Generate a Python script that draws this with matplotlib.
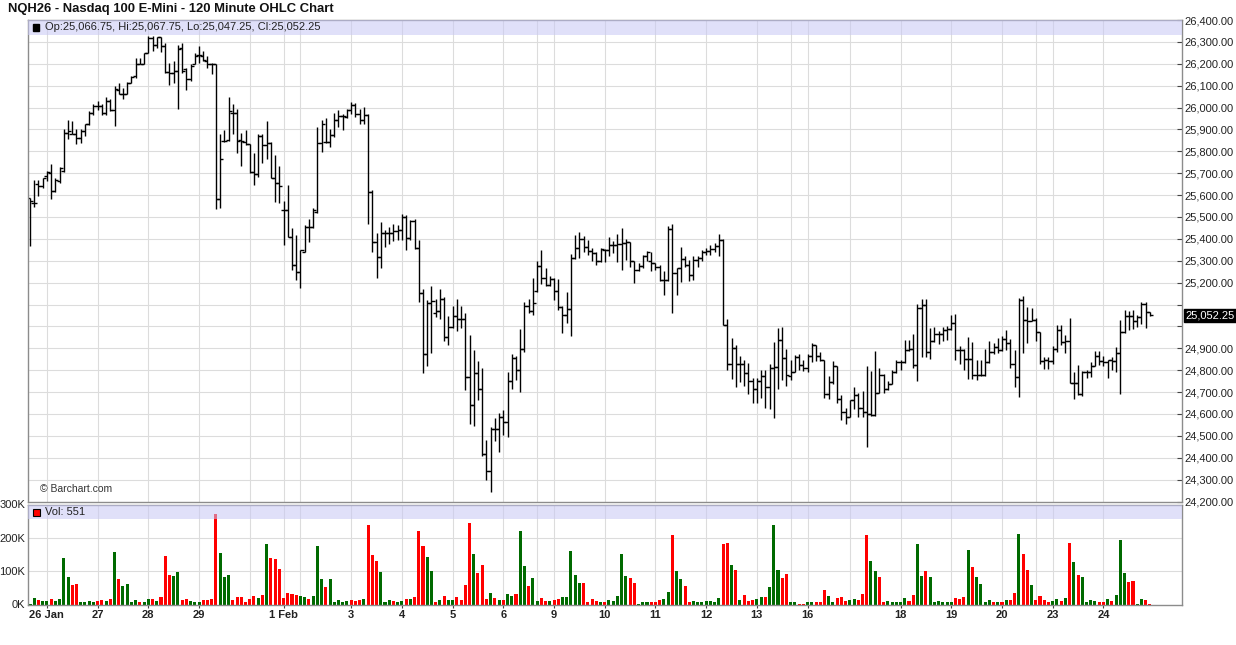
import numpy as np
import matplotlib
matplotlib.use('Agg')
import matplotlib.pyplot as plt
from matplotlib.collections import LineCollection
from matplotlib.patches import Rectangle

plt.rcParams['font.family'] = ['Liberation Sans', 'DejaVu Sans']

W, H = 1236, 645

title = 'NQH26 - Nasdaq 100 E-Mini - 120 Minute OHLC Chart'

# 120 minute bars, oldest first
opens = [
    25588, 25565, 25649, 25641, 25687, 25702, 25618, 25664, 25709, 25884,
    25880, 25877, 25862, 25892, 25923, 25976, 26006, 26006, 25976, 26029,
    25991, 26082, 26064, 26064, 26113, 26143, 26200, 26201, 26250, 26318,
    26288, 26323, 26280, 26161, 26158, 26166, 26273, 26174, 26131, 26197,
    26238, 26235, 26212, 26197, 26197, 25580, 25848, 25851, 25973, 25973,
    25851, 25843, 25833, 25706, 25696, 25869, 25828, 25840, 25676, 25656,
    25531, 25531, 25409, 25280, 25250, 25341, 25455, 25452, 25524, 25839,
    25843, 25843, 25874, 25945, 25960, 25957, 25988, 26011, 25970, 25945,
    25965, 25615, 25387, 25318, 25425, 25425, 25428, 25437, 25440, 25501,
    25404, 25480, 25358, 25153, 24876, 25107, 25062, 25069, 25126, 24952,
    24998, 25046, 25036, 25034, 24769, 24639, 24785, 24715, 24419, 24339,
    24532, 24532, 24587, 24562, 24750, 24856, 24800, 24897, 25095, 25069,
    25161, 25275, 25221, 25191, 25217, 25164, 25089, 25054, 25080, 25313,
    25358, 25400, 25361, 25343, 25336, 25298, 25351, 25348, 25374, 25374,
    25378, 25381, 25384, 25298, 25260, 25275, 25320, 25298, 25290, 25272,
    25211, 25214, 25445, 25244, 25267, 25308, 25282, 25237, 25305, 25313,
    25339, 25343, 25354, 25369, 25393, 25008, 24829, 24902, 24826, 24826,
    24788, 24750, 24712, 24750, 24772, 24724, 24811, 24815, 24940, 24856,
    24772, 24792, 24858, 24823, 24812, 24864, 24914, 24864, 24845, 24693,
    24746, 24818, 24670, 24609, 24587, 24663, 24686, 24625, 24609, 24602,
    24594, 24696, 24780, 24713, 24739, 24792, 24838, 24838, 24891, 24899,
    24823, 25086, 25097, 24883, 24934, 24964, 24964, 24985, 24990, 25016,
    24894, 24891, 24853, 24853, 24777, 24777, 24777, 24838, 24883, 24906,
    24891, 24944, 24926, 24830, 24769, 25119, 25028, 25025, 25031, 24975,
    24842, 24845, 24842, 24899, 24985, 24929, 24934, 24743, 24743, 24693,
    24792, 24792, 24818, 24864, 24842, 24838, 24845, 24842, 24879, 24975,
    25046, 25046, 25025, 25043, 25101, 25066.75,
]
highs = [
    25588, 25671, 25668, 25679, 25709, 25744, 25676, 25729, 25900, 25942,
    25938, 25900, 25903, 25927, 25983, 26014, 26032, 26014, 26046, 26037,
    26098, 26110, 26090, 26116, 26146, 26227, 26227, 26250, 26329, 26326,
    26323, 26323, 26295, 26204, 26212, 26288, 26295, 26181, 26197, 26250,
    26283, 26257, 26235, 26204, 26201, 25881, 25897, 26049, 26018, 25992,
    25884, 25897, 25833, 25793, 25881, 25881, 25938, 25843, 25782, 25732,
    25572, 25645, 25448, 25417, 25349, 25463, 25489, 25539, 25909, 25942,
    25950, 25904, 25976, 25988, 25970, 25995, 26026, 26023, 25995, 26003,
    25970, 25623, 25425, 25478, 25440, 25455, 25470, 25463, 25513, 25511,
    25488, 25491, 25393, 25171, 25120, 25186, 25126, 25171, 25135, 25049,
    25095, 25126, 25092, 25059, 24963, 24890, 24844, 24811, 24479, 24540,
    24582, 24605, 24617, 24791, 24876, 24864, 24986, 25110, 25126, 25221,
    25298, 25351, 25267, 25232, 25221, 25218, 25095, 25158, 25333, 25419,
    25432, 25415, 25397, 25358, 25339, 25358, 25354, 25409, 25389, 25424,
    25450, 25400, 25386, 25298, 25290, 25328, 25343, 25339, 25292, 25282,
    25252, 25457, 25470, 25267, 25363, 25320, 25305, 25320, 25320, 25348,
    25358, 25374, 25381, 25424, 25400, 25036, 24948, 24917, 24864, 24846,
    24833, 24765, 24765, 24803, 24803, 24826, 24930, 24994, 24998, 24895,
    24845, 24868, 24873, 24845, 24873, 24925, 24914, 24883, 24845, 24772,
    24842, 24818, 24686, 24628, 24663, 24724, 24696, 24704, 24818, 24797,
    24888, 24812, 24784, 24751, 24800, 24845, 24845, 24940, 24940, 24964,
    25101, 25127, 25127, 24995, 24998, 24979, 24998, 25001, 25051, 25055,
    24909, 24899, 24952, 24929, 24845, 24845, 24899, 24934, 24925, 24949,
    24955, 24985, 24944, 24891, 25130, 25138, 25089, 25086, 25040, 24975,
    24861, 24858, 24909, 25005, 25005, 24960, 25040, 24792, 24823, 24797,
    24800, 24838, 24888, 24886, 24864, 24845, 24858, 24906, 25031, 25077,
    25071, 25077, 25051, 25112, 25112, 25067.75,
]
lows = [
    25367, 25547, 25595, 25633, 25664, 25580, 25615, 25656, 25705, 25854,
    25877, 25834, 25839, 25872, 25918, 25968, 25991, 25965, 25968, 25983,
    25915, 26060, 26040, 26060, 26110, 26136, 26197, 26201, 26250, 26257,
    26273, 26253, 26158, 26105, 26113, 25994, 26158, 26082, 26120, 26197,
    26204, 26212, 26181, 26151, 25537, 25542, 25843, 25845, 25881, 25793,
    25732, 25828, 25699, 25645, 25683, 25747, 25767, 25676, 25569, 25562,
    25371, 25409, 25257, 25212, 25177, 25338, 25387, 25451, 25516, 25798,
    25836, 25820, 25866, 25912, 25897, 25950, 25970, 25957, 25927, 25927,
    25470, 25341, 25219, 25265, 25361, 25376, 25391, 25397, 25394, 25351,
    25397, 25354, 25110, 24788, 24818, 24879, 25043, 25034, 24932, 24914,
    24993, 24978, 24993, 24709, 24552, 24544, 24663, 24407, 24298, 24243,
    24475, 24425, 24506, 24494, 24712, 24757, 24699, 24882, 25062, 25051,
    25158, 25196, 25186, 25183, 25120, 25074, 24970, 25016, 24955, 25308,
    25313, 25339, 25328, 25298, 25279, 25293, 25293, 25320, 25336, 25293,
    25256, 25302, 25272, 25199, 25252, 25267, 25298, 25252, 25256, 25206,
    25145, 25206, 25062, 25145, 25202, 25272, 25206, 25214, 25272, 25298,
    25328, 25328, 25339, 25320, 25008, 24803, 24760, 24724, 24745, 24727,
    24689, 24651, 24648, 24674, 24628, 24624, 24583, 24712, 24757, 24727,
    24754, 24790, 24803, 24795, 24792, 24838, 24841, 24842, 24675, 24670,
    24739, 24651, 24571, 24553, 24584, 24622, 24584, 24584, 24447, 24591,
    24590, 24696, 24698, 24708, 24736, 24785, 24800, 24835, 24888, 24812,
    24751, 24861, 24861, 24850, 24930, 24918, 24934, 24937, 24982, 24845,
    24827, 24800, 24759, 24759, 24754, 24772, 24775, 24835, 24876, 24879,
    24888, 24891, 24812, 24721, 24678, 24879, 24925, 25023, 24934, 24827,
    24807, 24807, 24830, 24883, 24914, 24880, 24742, 24667, 24686, 24681,
    24766, 24769, 24818, 24823, 24818, 24762, 24800, 24792, 24693, 24970,
    24985, 24990, 24998, 25013, 24995, 25047.25,
]
closes = [
    25572, 25562, 25641, 25676, 25705, 25618, 25671, 25725, 25884, 25892,
    25877, 25862, 25892, 25923, 25976, 26009, 26006, 25976, 26031, 25991,
    26085, 26064, 26064, 26110, 26140, 26200, 26201, 26247, 26318, 26288,
    26323, 26280, 26161, 26158, 26166, 26268, 26166, 26131, 26192, 26235,
    26242, 26216, 26201, 26197, 25580, 25763, 25848, 25985, 25973, 25848,
    25848, 25833, 25706, 25696, 25869, 25828, 25840, 25676, 25656, 25641,
    25531, 25409, 25280, 25250, 25349, 25455, 25452, 25534, 25839, 25924,
    25843, 25874, 25945, 25960, 25960, 25988, 26011, 25970, 25945, 25965,
    25615, 25387, 25318, 25425, 25425, 25428, 25437, 25440, 25501, 25404,
    25480, 25358, 25153, 24876, 25107, 25115, 25069, 25126, 24952, 24998,
    25046, 25036, 25034, 24769, 24639, 24785, 24715, 24419, 24339, 24532,
    24532, 24587, 24562, 24750, 24856, 24800, 24897, 25095, 25069, 25107,
    25275, 25221, 25191, 25217, 25164, 25089, 25054, 25080, 25313, 25358,
    25400, 25361, 25343, 25336, 25298, 25354, 25348, 25374, 25374, 25378,
    25381, 25384, 25298, 25260, 25275, 25320, 25339, 25290, 25272, 25211,
    25214, 25445, 25244, 25267, 25308, 25282, 25237, 25305, 25313, 25339,
    25343, 25354, 25369, 25393, 25008, 24829, 24902, 24826, 24826, 24788,
    24750, 24712, 24750, 24772, 24724, 24811, 24815, 24940, 24856, 24777,
    24792, 24858, 24823, 24812, 24864, 24914, 24864, 24845, 24693, 24746,
    24818, 24670, 24609, 24587, 24663, 24686, 24625, 24609, 24602, 24594,
    24696, 24780, 24713, 24739, 24792, 24838, 24838, 24891, 24899, 24823,
    25086, 25097, 24883, 24934, 24964, 24964, 24985, 24990, 25016, 24894,
    24891, 24853, 24853, 24777, 24777, 24777, 24838, 24883, 24906, 24891,
    24944, 24926, 24830, 24769, 25119, 25028, 25025, 25031, 24975, 24842,
    24845, 24842, 24899, 24985, 24929, 24934, 24743, 24743, 24693, 24792,
    24792, 24818, 24864, 24842, 24838, 24845, 24842, 24879, 24975, 25046,
    25046, 25025, 25043, 25101, 25066, 25052.25,
]
# volume in thousands of contracts
volume_k = [
    2, 21, 13, 10, 10, 16, 10, 16, 140, 82, 58, 63, 7, 7, 10, 7, 10, 13, 10, 16,
    158, 77, 55, 63, 7, 13, 7, 7, 18, 16, 10, 22, 146, 88, 86, 98, 13, 18, 10, 7,
    7, 13, 13, 16, 272, 155, 82, 88, 13, 22, 22, 7, 16, 25, 19, 28, 182, 140, 137, 107,
    19, 34, 31, 28, 25, 22, 16, 25, 176, 77, 52, 77, 7, 13, 7, 10, 13, 10, 13, 16,
    238, 148, 130, 98, 7, 13, 10, 7, 10, 18, 16, 22, 222, 176, 143, 101, 7, 13, 25, 13,
    13, 22, 13, 58, 246, 152, 95, 119, 16, 34, 19, 13, 13, 31, 25, 31, 222, 116, 55, 80,
    10, 19, 10, 10, 13, 16, 22, 22, 161, 89, 64, 64, 7, 16, 10, 7, 7, 13, 10, 25,
    152, 86, 80, 64, 3, 7, 7, 7, 7, 13, 16, 37, 210, 101, 77, 55, 7, 10, 7, 7,
    10, 10, 7, 19, 182, 185, 119, 104, 13, 28, 10, 13, 16, 22, 22, 52, 240, 104, 80, 92,
    7, 7, 3, 3, 7, 7, 7, 7, 43, 25, 7, 19, 22, 10, 13, 16, 13, 31, 210, 131,
    101, 83, 7, 10, 7, 7, 7, 19, 10, 28, 182, 86, 101, 83, 7, 10, 7, 7, 7, 19,
    16, 22, 164, 113, 83, 61, 7, 13, 7, 7, 7, 13, 13, 34, 213, 152, 104, 58, 13, 25,
    13, 7, 10, 16, 10, 19, 185, 128, 89, 83, 7, 13, 10, 7, 7, 16, 10, 28, 194, 95,
    67, 70, 3, 16, 13, 0.551,
]
# g = up bar, r = down bar
vol_colors = ("ggrggrggggrrggggrrgr" "grggggrggrgrrrggrrgg" "grrrrgggrrrrrrgrgrrr"
              "rrrrggrgggrgggggrrrg" "rrrgggrggrgrrrggrgrg" "grrrrgrrrgrgrggrggrg"
              "grrgrrgggggrrrrgrggg" "ggrrgggrrrggrggrrggg" "ggggrrgrgrrrggrgggrr"
              "ggrrggrrrggrrrggrrrg" "grrgggggrrggrggggggr" "rrgrggggrgrgrrgrrgrr"
              "rrggrgrgrggggrrgrggg" "rrggrr")

day_ticks = [4, 16, 28, 40, 60, 76, 88, 100, 112, 124, 136, 148, 160, 172,
             184, 206, 218, 230, 242, 254]
day_labels = ['26 Jan', '27', '28', '29', '1 Feb', '3', '4', '5', '6', '9',
              '10', '11', '12', '13', '16', '18', '19', '20', '23', '24']
grid_days = [4, 16, 28, 40, 52, 60, 64, 76, 88, 100, 112, 120, 124, 136, 148,
             160, 172, 180, 184, 194, 206, 218, 230, 238, 242, 254]
price_ticks = list(range(24200, 26401, 100))
hidden_price_labels = [25000, 25100]
vol_ticks = [0, 100, 200, 300]


def rect(l, t, r, b):
    return [l / W, 1 - b / H, (r - l) / W, (b - t) / H]


fig = plt.figure(figsize=(W / 100, H / 100), dpi=100)
ax = fig.add_axes(rect(28, 20, 1182, 501.5))
axv = fig.add_axes(rect(28, 504.5, 1182, 604.5))

step = 4.226  # px per bar
xl = (-2 / step, (1182 - 30) / step)
n = len(closes)
x = np.arange(n)

grid_c = '#dcdcdc'
frame_c = '#8c8c8c'

# ---- price panel
for d in grid_days:
    ax.axvline(d, color=grid_c, lw=0.8, zorder=0.5)
    axv.axvline(d, color=grid_c, lw=0.8, zorder=0.5)
for p in price_ticks[1:-1]:
    ax.axhline(p, color=grid_c, lw=0.8, zorder=0.5)

segs = []
tw = 0.72
for i in range(n):
    segs.append([(i, lows[i]), (i, highs[i])])
    segs.append([(i - tw, opens[i]), (i, opens[i])])
    segs.append([(i, closes[i]), (i + tw, closes[i])])
ax.add_collection(LineCollection(segs, colors='black', linewidths=1.0, zorder=2))

ax.set_xlim(*xl)
ax.set_ylim(24200, 26400)
ax.set_xticks([])
ax.yaxis.tick_right()
ax.set_yticks(price_ticks)
ax.set_yticklabels(['' if p in hidden_price_labels else f'{p:,.2f}' for p in price_ticks])
ax.tick_params(axis='y', direction='in', length=3.5, width=0.8, color='#444444',
               labelcolor='#222222', labelsize=8, pad=2)
for s in ax.spines.values():
    s.set_color(frame_c)
    s.set_linewidth(1.0)

bh = 14.5 / 481.5
ax.add_patch(Rectangle((0, 1 - bh), 1, bh, transform=ax.transAxes,
                       fc='#c8c8f5', alpha=0.55, ec='none', zorder=3))
ax.text(17 / 1154, 1 - 7.2 / 481.5,
        f'Op:{opens[-1]:,.2f}, Hi:{highs[-1]:,.2f}, Lo:{lows[-1]:,.2f}, Cl:{closes[-1]:,.2f}',
        transform=ax.transAxes, fontsize=8, color='#222222', va='center', ha='left', zorder=4)
fig.add_artist(Rectangle((33 / W, 1 - 30.5 / H), 6.5 / W, 6.5 / H,
                         transform=fig.transFigure, fc='black', ec='black'))
ax.text(12 / 1154, 13 / 481.5, '\u00a9 Barchart.com', transform=ax.transAxes,
        fontsize=7.5, color='#333333', va='center', ha='left', zorder=4)

# last price marker
fig.text(1185.5 / W, 1 - 315.5 / H, f'{closes[-1]:,.2f}', color='white', fontsize=8,
         ha='left', va='center',
         bbox=dict(boxstyle='square,pad=0.12', fc='black', ec='black'))

# ---- volume panel
for v in vol_ticks[1:-1]:
    axv.axhline(v, color=grid_c, lw=0.8, zorder=0.5)
cols = ['#006a00' if c == 'g' else '#ff0000' for c in vol_colors]
axv.bar(x, volume_k, width=0.72, color=cols, zorder=2)
axv.set_xlim(*xl)
axv.set_ylim(0, 300)
axv.set_yticks(vol_ticks)
axv.set_yticklabels([f'{v}K' for v in vol_ticks])
axv.tick_params(axis='y', length=0, labelsize=8, labelcolor='#222222', pad=2)
axv.set_xticks(day_ticks)
axv.set_xticklabels(day_labels, fontweight='bold')
axv.tick_params(axis='x', length=2.5, width=0.8, color='#444444', labelsize=8,
                labelcolor='#222222', pad=1.5)
for s in axv.spines.values():
    s.set_color(frame_c)
    s.set_linewidth(1.0)

vbh = 14.2 / 100
axv.add_patch(Rectangle((0, 1 - vbh), 1, vbh, transform=axv.transAxes,
                        fc='#c8c8f5', alpha=0.55, ec='none', zorder=3))
axv.text(17 / 1154, 1 - 7.3 / 100, f'Vol: {volume_k[-1] * 1000:,.0f}',
         transform=axv.transAxes, fontsize=8, color='#222222', va='center', ha='left',
         zorder=4)
fig.add_artist(Rectangle((33 / W, 1 - 515.5 / H), 7 / W, 7 / H,
                         transform=fig.transFigure, fc='#ff0000', ec='black', lw=0.8))

fig.text(8 / W, 1 - 9 / H, title, fontsize=9.4, fontweight='bold', color='#111111',
         ha='left', va='center')

fig.savefig('out.png', dpi=100)
